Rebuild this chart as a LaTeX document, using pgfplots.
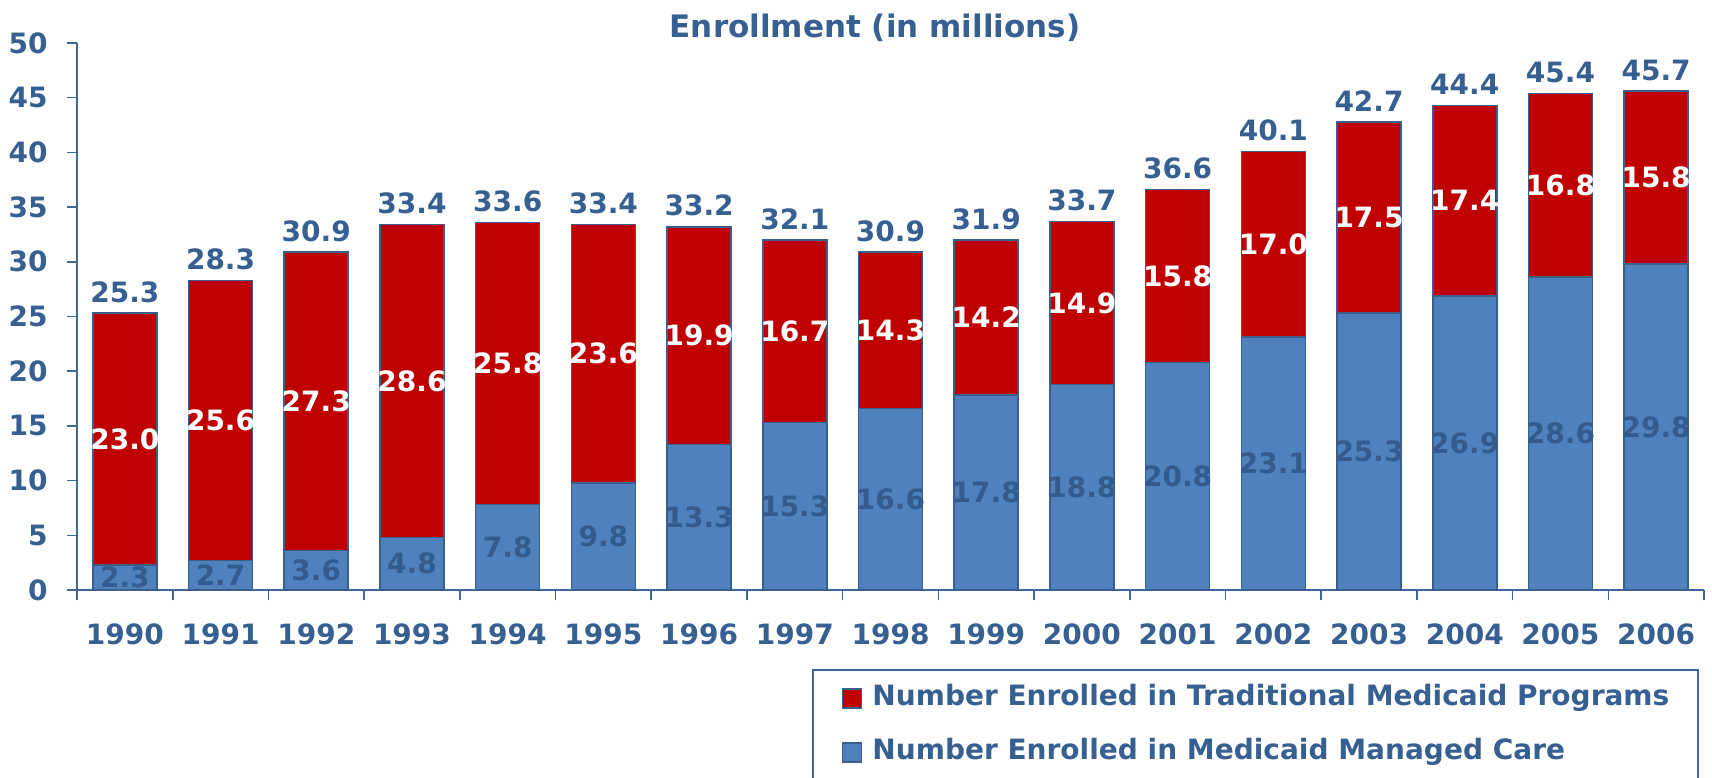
\documentclass[border=0pt]{standalone}
\usepackage{fontspec}
\setmainfont{DejaVu Sans}
\usepackage{pgfplots}
\usepackage{pgfplotstable}
\pgfplotsset{compat=1.18}
\definecolor{txtblue}{RGB}{54,96,146}
\definecolor{axblue}{RGB}{62,104,154}
\definecolor{mcblue}{RGB}{79,129,189}
\definecolor{trred}{RGB}{192,0,0}
\definecolor{barline}{RGB}{58,95,140}
\definecolor{inlabel}{RGB}{50,92,144}

\pgfplotstableread{
x blue red total
0 2.3 23.0 25.3
1 2.7 25.6 28.3
2 3.6 27.3 30.9
3 4.8 28.6 33.4
4 7.8 25.8 33.6
5 9.8 23.6 33.4
6 13.3 19.9 33.2
7 15.3 16.7 32.1
8 16.6 14.3 30.9
9 17.8 14.2 31.9
10 18.8 14.9 33.7
11 20.8 15.8 36.6
12 23.1 17.0 40.1
13 25.3 17.5 42.7
14 26.9 17.4 44.4
15 28.6 16.8 45.4
16 29.8 15.8 45.7
}\data

\pgfplotsset{common/.style={at={(38.5pt,93.5pt)}, anchor=south west, scale only axis,
  width=813.5pt, height=273.5pt, xmin=-0.5, xmax=16.5, ymin=0, ymax=50, enlargelimits=false}}
\newcommand{\lblfont}{\fontsize{14}{16}\selectfont\bfseries}

\begin{document}
\begin{tikzpicture}
\begin{axis}[common,
  ybar stacked, bar width=32pt,
  axis lines*=left,
  axis line style={-, draw=axblue, line width=1pt},
  ytick={0,5,...,50},
  xtick={0,...,16},
  xticklabels={1990,1991,1992,1993,1994,1995,1996,1997,1998,1999,2000,2001,2002,2003,2004,2005,2006},
  minor xtick={-0.5,0.5,...,16.5},
  tick align=outside,
  major tick length=5pt, minor tick length=5pt,
  tick style={draw=axblue, line width=0.8pt},
  every major x tick/.append style={draw=none},
  ticklabel style={font=\lblfont, text=txtblue},
  /pgf/number format/assume math mode=true,
  yticklabel style={inner sep=0pt, xshift=-9.5pt},
  xticklabel style={inner sep=0pt, anchor=north, yshift=-11.5pt},
  title={Enrollment (in millions)},
  title style={at={(0.4905,1.005)}, anchor=center, inner sep=0pt,
    font=\fontsize{15.5}{18}\selectfont\bfseries, text=txtblue},
  reverse legend,
  legend cell align=left,
  legend image code/.code={\draw[#1, line width=0.8pt] (0pt,-4.75pt) rectangle (9.5pt,4.75pt);},
  legend style={at={(0.4518,-0.1444)}, anchor=north west,
    draw=axblue, line width=0.8pt, fill=white,
    inner xsep=14.5pt, inner ysep=8pt, row sep=14pt,
    font=\lblfont, text=txtblue,
    nodes={inner sep=0pt, text height=10pt, text depth=3pt},
    /tikz/every odd column/.append style={column sep=5pt}},
]
\addplot[fill=mcblue, draw=barline, line width=0.8pt] table[x=x, y=blue]{\data};
\addlegendentry{Number Enrolled in Medicaid Managed Care}
\addplot[fill=trred, draw=barline, line width=0.8pt] table[x=x, y=red]{\data};
\addlegendentry{Number Enrolled in Traditional Medicaid Programs}
\end{axis}

\begin{axis}[common, hide axis, clip=false]
\addplot[only marks, mark=*, mark size=0pt, mark options={draw=none, fill=none},
  point meta=explicit symbolic, nodes near coords={\pgfplotspointmeta},
  every node near coord/.append style={anchor=center, inner sep=0pt, font=\lblfont, text=inlabel}]
  table[x=x, y expr=\thisrow{blue}/2, meta=blue]{\data};
\addplot[only marks, mark=*, mark size=0pt, mark options={draw=none, fill=none},
  point meta=explicit symbolic, nodes near coords={\pgfplotspointmeta},
  every node near coord/.append style={anchor=center, inner sep=0pt, font=\lblfont, text=white}]
  table[x=x, y expr=\thisrow{blue}+\thisrow{red}/2, meta=red]{\data};
\addplot[only marks, mark=*, mark size=0pt, mark options={draw=none, fill=none},
  point meta=explicit symbolic, nodes near coords={\pgfplotspointmeta},
  every node near coord/.append style={anchor=south, inner sep=0pt, yshift=5pt, font=\lblfont, text=txtblue}]
  table[x=x, y expr=\thisrow{blue}+\thisrow{red}, meta=total]{\data};
\end{axis}
\pgfresetboundingbox
\path[use as bounding box] (0,0) rectangle (856pt,388.5pt);
\end{tikzpicture}
\end{document}
